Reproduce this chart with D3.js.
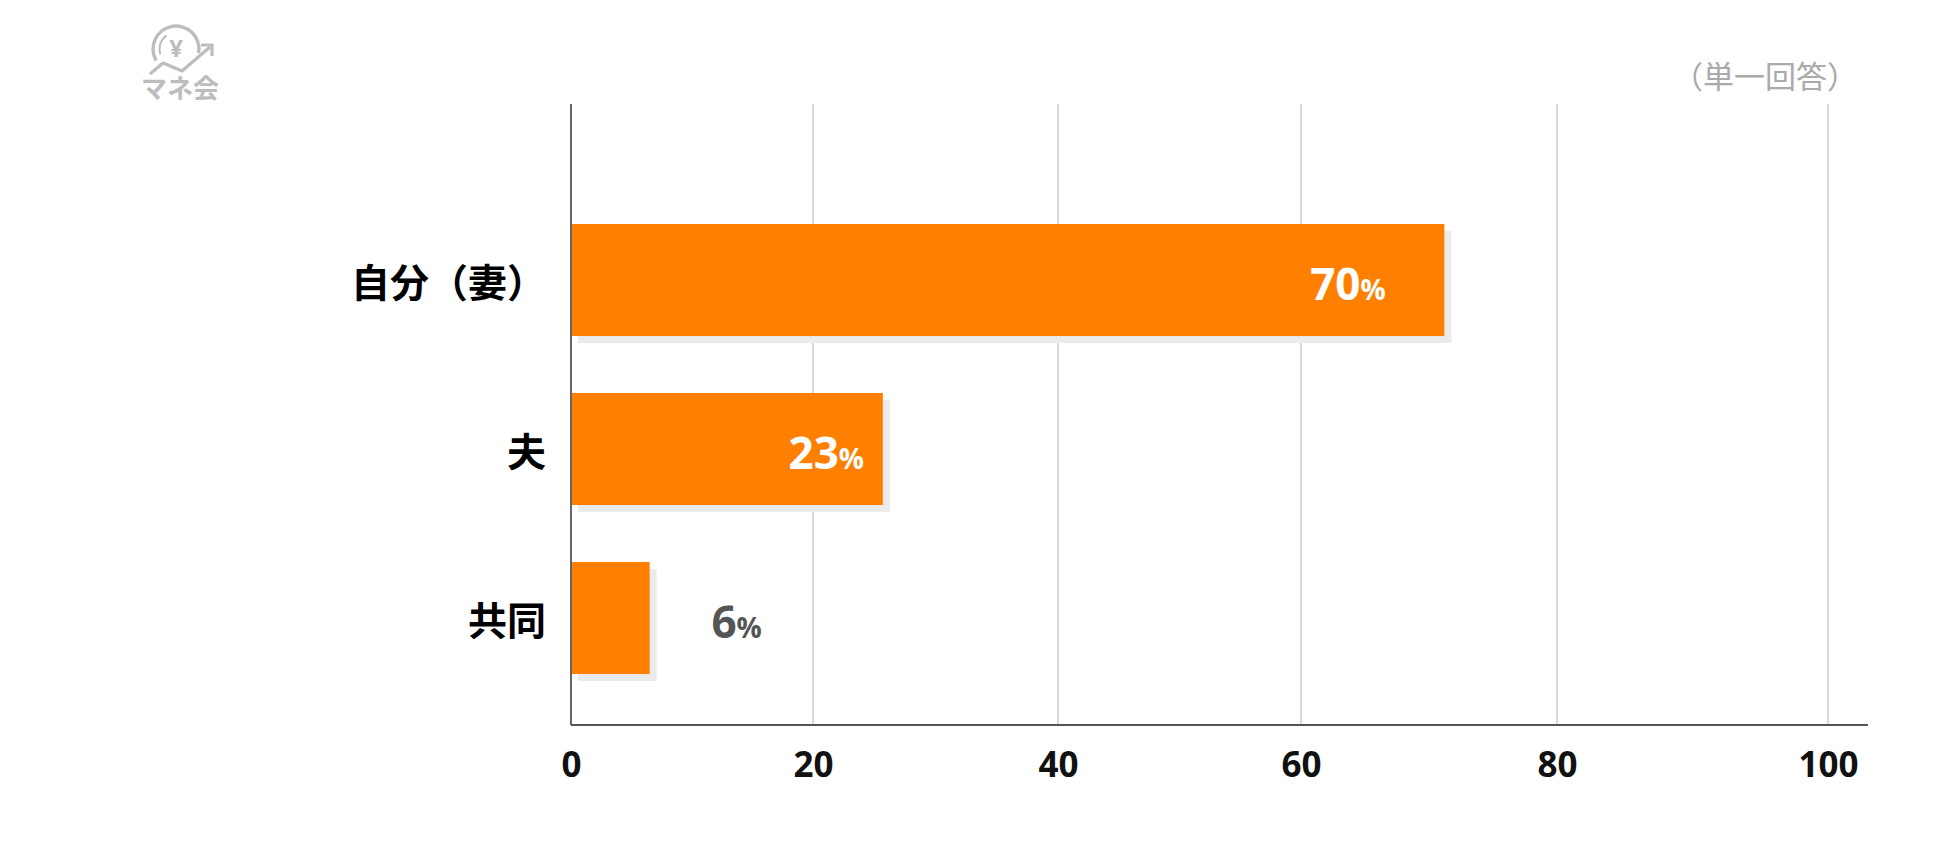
<!DOCTYPE html>
<html>
<head>
<meta charset="utf-8">
<script src="https://cdn.jsdelivr.net/npm/d3@7"></script>
<style>
  html, body { margin: 0; padding: 0; background: #fff; }
  svg { display: block; }
</style>
</head>
<body>
<svg id="chart" width="1950" height="856"></svg>
<script>
// ---- data ----
const categories = ["自分（妻）", "夫", "共同"];
const values = [71.2, 25.7, 6.5];          // bar lengths as drawn
const valueLabels = ["70", "23", "6"];     // printed labels
const tickValues = [0, 20, 40, 60, 80, 100];
const tickLabels = ["0", "20", "40", "60", "80", "100"];
const noteText = "（単一回答）";
const logoText = "マネ会";

// ---- layout ----
const plotTop = 104, plotBottom = 725;
const svg = d3.select("#chart");

// gridlines in the picture are not evenly spaced: piecewise linear scale
const x = d3.scaleLinear()
  .domain(tickValues)
  .range([571, 813, 1058, 1301, 1557, 1828]);
// even scale used for placing the labels inside the bars
const xLin = d3.scaleLinear().domain([0, 100]).range([571, 1828]);

const y = d3.scaleBand()
  .domain(categories)
  .range([139.5, 758.5])
  .paddingInner(0.337)
  .paddingOuter(0.5);

const orange = "#FF7F00";
const jp = "'Noto Sans CJK JP', 'Noto Sans', sans-serif";
const num = "'Open Sans', 'Noto Sans', sans-serif";

// gridlines
svg.append("g").selectAll("line")
  .data(tickValues.slice(1))
  .join("line")
  .attr("x1", d => x(d)).attr("x2", d => x(d))
  .attr("y1", plotTop).attr("y2", plotBottom)
  .attr("stroke", "#cccccc").attr("stroke-width", 1.5);

// shadows
svg.append("g").selectAll("rect")
  .data(values)
  .join("rect")
  .attr("x", x(0) + 7)
  .attr("y", (d, i) => y(categories[i]) + 7)
  .attr("width", d => x(d) - x(0))
  .attr("height", y.bandwidth())
  .attr("fill", "#ebebeb");

// bars
svg.append("g").selectAll("rect")
  .data(values)
  .join("rect")
  .attr("x", x(0))
  .attr("y", (d, i) => y(categories[i]))
  .attr("width", d => x(d) - x(0))
  .attr("height", y.bandwidth())
  .attr("fill", orange);

// axes lines
svg.append("line")
  .attr("x1", x(0)).attr("x2", x(0))
  .attr("y1", plotTop).attr("y2", plotBottom)
  .attr("stroke", "#666").attr("stroke-width", 2);
svg.append("line")
  .attr("x1", x(0)).attr("x2", 1868)
  .attr("y1", plotBottom).attr("y2", plotBottom)
  .attr("stroke", "#555").attr("stroke-width", 2);

// x tick labels
const xAxis = d3.axisBottom(x)
  .tickValues(tickValues)
  .tickFormat((d, i) => tickLabels[i])
  .tickSize(0)
  .tickPadding(27);
const gx = svg.append("g")
  .attr("transform", `translate(0,${plotBottom})`)
  .call(xAxis);
gx.select(".domain").remove();
gx.selectAll("text")
  .attr("font-family", num)
  .attr("font-weight", "bold")
  .attr("font-size", 35)
  .attr("fill", "#111");

// category labels
svg.append("g").selectAll("text")
  .data(categories)
  .join("text")
  .attr("x", 546)
  .attr("y", d => y(d) + y.bandwidth() / 2 + 3)
  .attr("dy", "0.36em")
  .attr("text-anchor", "end")
  .attr("font-family", jp)
  .attr("font-weight", "bold")
  .attr("font-size", 39)
  .attr("fill", "#000")
  .text(d => d);

// value labels
const lab = svg.append("g").selectAll("text")
  .data(values)
  .join("text")
  .attr("font-family", num)
  .attr("font-weight", "bold")
  .attr("y", (d, i) => y(categories[i]) + y.bandwidth() / 2 + 20)
  .attr("text-anchor", "middle")
  .attr("x", (d, i) => d > 15 ? xLin(+valueLabels[i] * 0.883) : x(d) + 87)
  .attr("fill", d => d > 15 ? "#fff" : "#555");
lab.append("tspan").attr("font-size", 44).text((d, i) => valueLabels[i]);
lab.append("tspan").attr("font-size", 28).text("%");

// note
svg.append("text")
  .attr("x", 1858).attr("y", 88)
  .attr("text-anchor", "end")
  .attr("font-family", jp)
  .attr("font-size", 31)
  .attr("fill", "#aaa")
  .text(noteText);

// logo
const logo = svg.append("g").attr("fill", "none").attr("stroke", "#bdbdbd");
const cx = 176, cy = 49, r = 23;
const arc = d3.arc();
logo.append("path")
  .attr("transform", `translate(${cx},${cy})`)
  .attr("d", arc({innerRadius: r - 1.7, outerRadius: r + 1.7, startAngle: -2.1, endAngle: 1.75}))
  .attr("fill", "#bdbdbd").attr("stroke", "none");
logo.append("path")
  .attr("transform", `translate(${cx},${cy})`)
  .attr("d", arc({innerRadius: r - 7.5, outerRadius: r - 5.5, startAngle: -1.9, endAngle: -0.6}))
  .attr("fill", "#bdbdbd").attr("stroke", "none");
logo.append("path")
  .attr("d", d3.line()([[150, 74], [163, 63], [182, 71], [210, 47]]))
  .attr("stroke-width", 3.2).attr("stroke-linejoin", "round");
logo.append("path")
  .attr("d", d3.line()([[201, 45], [212, 45], [212, 56]]))
  .attr("stroke-width", 3.2);
svg.append("text")
  .attr("x", cx).attr("y", cy + 8)
  .attr("text-anchor", "middle")
  .attr("font-family", num).attr("font-weight", "bold")
  .attr("font-size", 24).attr("fill", "#bdbdbd")
  .text("¥");
svg.append("text")
  .attr("x", 180).attr("y", 98)
  .attr("text-anchor", "middle")
  .attr("font-family", jp).attr("font-weight", "bold")
  .attr("font-size", 26).attr("fill", "#bdbdbd")
  .text(logoText);
</script>
</body>
</html>
